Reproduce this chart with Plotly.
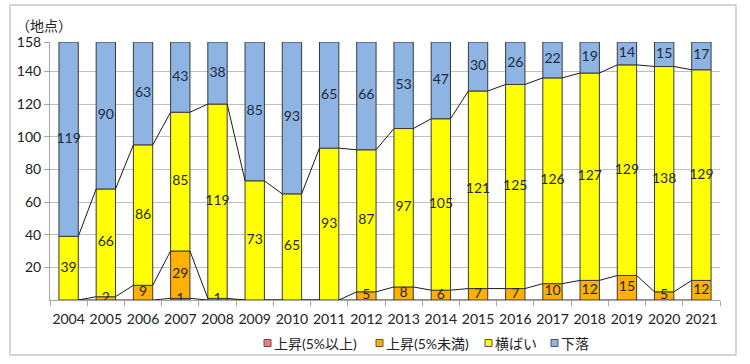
import plotly.graph_objects as go

years = ["2004", "2005", "2006", "2007", "2008", "2009", "2010", "2011", "2012",
         "2013", "2014", "2015", "2016", "2017", "2018", "2019", "2020", "2021"]
up_high = [0, 0, 0, 1, 0, 0, 0, 0, 0, 0, 0, 0, 0, 0, 0, 0, 0, 0]
up_low = [0, 2, 9, 29, 1, 0, 0, 0, 5, 8, 6, 7, 7, 10, 12, 15, 5, 12]
flat = [39, 66, 86, 85, 119, 73, 65, 93, 87, 97, 105, 121, 125, 126, 127, 129, 138, 129]
down = [119, 90, 63, 43, 38, 85, 93, 65, 66, 53, 47, 30, 26, 22, 19, 14, 15, 17]

names = ["上昇(5%以上)", "上昇(5%未満)", "横ばい", "下落"]
colors = ["#F07C84", "#FFB000", "#FFFF00", "#8DB4E2"]
series = [up_high, up_low, flat, down]

FONT = "Lato, 'Noto Sans CJK JP', sans-serif"
x = list(range(len(years)))
W = 0.52

# plot-area geometry (px) used to convert the frame / legend into paper coords
L, R, T, B = 50, 30, 42, 64
PW, PH = 750 - L - R, 364 - T - B


def px(xp):
    return (xp - L) / PW


def py(yp):
    return (364 - B - yp) / PH


fig = go.Figure()
base = [0] * len(years)
bases = []
for name, col, vals in zip(names, colors, series):
    fig.add_trace(go.Bar(x=x, y=vals, base=base, name=name, width=W, showlegend=False,
                         marker=dict(color=col, line=dict(color="#3a3a3a", width=1)),
                         hoverinfo="skip"))
    bases.append(list(base))
    base = [b + v for b, v in zip(base, vals)]

# data labels
for vals, bs in zip(series, bases):
    xs, ys, ts = [], [], []
    for i, (v, b) in enumerate(zip(vals, bs)):
        if v > 0:
            xs.append(i)
            ys.append(b + v / 2)
            ts.append(str(v))
    fig.add_trace(go.Scatter(x=xs, y=ys, text=ts, mode="text", showlegend=False,
                             textfont=dict(size=14, color="#1f2a3a", family=FONT),
                             hoverinfo="skip"))

# series lines
cum = [0] * len(years)
for vals in series[:3]:
    cum = [c + v for c, v in zip(cum, vals)]
    lx, ly = [], []
    for i in range(len(years) - 1):
        lx += [i + W / 2, i + 1 - W / 2, None]
        ly += [cum[i], cum[i + 1], None]
    fig.add_trace(go.Scatter(x=lx, y=ly, mode="lines", showlegend=False,
                             line=dict(color="#1a1a1a", width=1), hoverinfo="skip"))

# legend (compact, Excel-like)
legend_x = [264, 376, 485, 551]
shapes = [dict(type="rect", xref="paper", yref="paper", x0=px(10), x1=px(736),
               y0=py(355), y1=py(5), line=dict(color="#c8c8c8", width=1.5),
               fillcolor="rgba(0,0,0,0)", layer="below")]
annotations = [dict(text="（地点）", xref="paper", yref="paper", x=px(14), y=py(25),
                    xanchor="left", yanchor="middle", showarrow=False,
                    font=dict(size=14, family=FONT, color="#222"))]
for lx0, name, col in zip(legend_x, names, colors):
    shapes.append(dict(type="rect", xref="paper", yref="paper", x0=px(lx0), x1=px(lx0 + 7),
                       y0=py(346.5), y1=py(339.5), fillcolor=col,
                       line=dict(color="#555555", width=1)))
    annotations.append(dict(text=name, xref="paper", yref="paper", x=px(lx0 + 8), y=py(343),
                            xanchor="left", yanchor="middle", showarrow=False,
                            font=dict(size=14, family=FONT, color="#222")))

yt = [20, 40, 60, 80, 100, 120, 140, 158]
fig.update_layout(
    width=750, height=364,
    margin=dict(l=L, r=R, t=T, b=B, autoexpand=False),
    paper_bgcolor="white", plot_bgcolor="white",
    barmode="overlay",
    font=dict(family=FONT, size=14, color="#222222"),
    showlegend=False,
    xaxis=dict(range=[-0.5, len(years) - 0.5], tickvals=x, ticktext=years,
               ticks="", showgrid=False, zeroline=False, automargin=False,
               showline=True, linecolor="#a6a6a6", linewidth=1, ticklabelstandoff=6,
               tickfont=dict(size=14, family=FONT, color="#222"),
               minor=dict(tickvals=[i - 0.5 for i in range(len(years) + 1)],
                          ticks="outside", ticklen=5, tickcolor="#a6a6a6", showgrid=False)),
    yaxis=dict(range=[0, 158], tickvals=yt, ticks="outside", ticklen=5, automargin=False,
               tickcolor="#a6a6a6", showgrid=True, gridcolor="#bfbfbf", gridwidth=1,
               zeroline=False, showline=True, linecolor="#a6a6a6", linewidth=1,
               tickfont=dict(size=14, family=FONT, color="#222")),
    annotations=annotations,
    shapes=shapes,
)

fig.write_html("out.html", config={"displayModeBar": False},
               post_script="document.body.style.margin='0';document.body.style.overflow='hidden';")
